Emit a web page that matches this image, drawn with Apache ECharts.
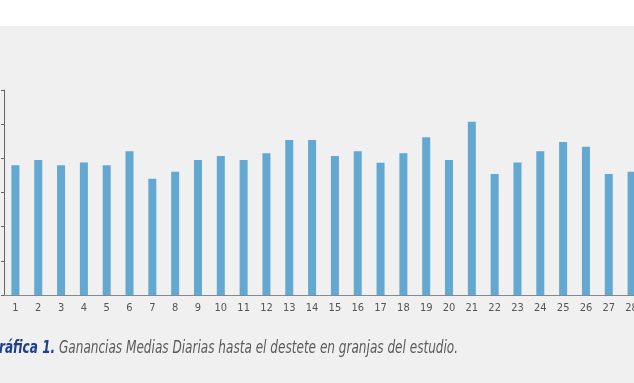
<!DOCTYPE html>
<html><head><meta charset="utf-8">
<script src="https://cdn.jsdelivr.net/npm/echarts@6/dist/echarts.min.js"></script>
<style>html,body{margin:0;padding:0;background:#fff}#c{width:634px;height:383px}</style>
</head><body><div id="c"></div>
<script>
const categories = ['1','2','3','4','5','6','7','8','9','10','11','12','13','14','15','16','17','18','19','20','21','22','23','24','25','26','27','28'];
const values = [3.80,3.95,3.80,3.88,3.80,4.21,3.40,3.61,3.95,4.07,3.95,4.15,4.54,4.54,4.07,4.21,3.87,4.15,4.62,3.95,5.07,3.54,3.88,4.21,4.48,4.34,3.54,3.61];
const captionBold = 'ráfica 1.';
const captionText = ' Ganancias Medias Diarias hasta el destete en granjas del estudio.';
const FF = '"DejaVu Sans Condensed", "Roboto Condensed", "Liberation Sans Narrow", sans-serif';

const chart = echarts.init(document.getElementById('c'), null, {renderer:'canvas'});
chart.setOption({
  backgroundColor: '#f0f0f0',
  animation: false,
  graphic: [
    {type:'rect', left:0, top:0, shape:{width:634, height:26}, style:{fill:'#ffffff'}, silent:true},
    {type:'text', x:-1, y:340, scaleX:0.79, style:{
      rich:{
        b:{fontFamily:FF, fontStyle:'italic', fontWeight:'bold', fontSize:17, fill:'#1d3f8c'},
        t:{fontFamily:FF, fontStyle:'italic', fontSize:17, fill:'#5a5a5a'}
      },
      text:'{b|' + captionBold + '}{t|' + captionText + '}'
    }}
  ],
  grid: {left:4, top:90, width:639, height:205, containLabel:false, outerBoundsMode:'none'},
  xAxis: {
    type:'category', data:categories,
    axisLine:{lineStyle:{color:'#888888', width:1}},
    axisTick:{show:false},
    axisLabel:{color:'#555555', fontFamily:FF, fontSize:11, margin:8, interval:0}
  },
  yAxis: {
    type:'value', min:0, max:6, interval:1,
    axisLine:{show:true, lineStyle:{color:'#666666'}},
    axisTick:{show:true, length:3, lineStyle:{color:'#666666'}},
    axisLabel:{show:false},
    splitLine:{show:false}
  },
  series: [{
    type:'bar', data:values, barWidth:8,
    itemStyle:{color:'#62a8d0'}
  }]
});
</script></body></html>
